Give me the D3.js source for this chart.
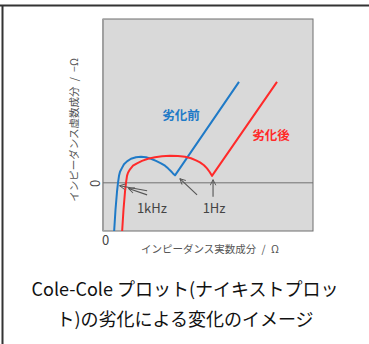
<!DOCTYPE html>
<html>
<head>
<meta charset="utf-8">
<script src="https://cdn.jsdelivr.net/npm/d3@7"></script>
<style>
  html, body { margin: 0; padding: 0; background: #fff; }
  svg { display: block; }
  text { font-family: "Noto Sans CJK JP", "Noto Sans", sans-serif; }
</style>
</head>
<body>
<svg id="chart" width="369" height="344"></svg>
<script>
// Nyquist (Cole-Cole) curves: real part (x) vs. negative imaginary part (y), arbitrary units
const beforeRe = [5.24, 5.95, 6.67, 7.14, 7.62, 8.10, 9.05, 10.0, 11.43, 13.33, 15.71, 18.10, 20.48, 22.86, 25.24, 27.62, 29.52, 30.95, 32.38, 33.33, 34.29, 64.76];
const beforeIm = [-21, -11.2, -3.7, 0, 2.9, 4.6, 6.2, 7.7, 8.9, 10.0, 10.6, 10.8, 10.6, 10.0, 9.1, 8.1, 7.1, 6.0, 4.8, 3.9, 3.1, 41.9];
const afterRe = [9.05, 9.76, 10.48, 10.95, 11.43, 11.90, 12.86, 14.29, 16.19, 18.57, 21.43, 24.76, 28.10, 31.90, 35.71, 39.05, 41.90, 44.29, 46.19, 48.10, 49.52, 50.71, 51.90, 82.86];
const afterIm = [-21, -11.2, -3.7, 0, 2.9, 4.2, 5.6, 7.1, 8.1, 9.1, 10.0, 10.6, 11.0, 11.2, 11.1, 10.8, 10.2, 9.3, 8.5, 7.3, 6.0, 4.6, 2.9, 41.9];

const seriesNames = ["劣化前", "劣化後"];
const seriesColors = ["#1f7ac7", "#ff2a2a"];
const seriesLabelAt = [[37.1, 28.2], [80.0, 19.9]];

const xTicks = [0];
const yTicks = [0];
const xTitle = "インピーダンス実数成分\u2002/\u2002Ω";
const yTitle = "インピーダンス虚数成分\u2002/\u2002−Ω";

// frequency markers: label, label position, arrows [from, to]
const freqLabels = ["1kHz", "1Hz"];
const freqLabelAt = [[23.3, -10.2], [52.9, -10.2]];
const freqArrows = [
  [[[21.0, -3.3], [7.9, -1.2]], [[21.0, -5.0], [12.2, -2.4]]],
  [[[44.8, -5.0], [36.6, 1.7]], [[52.4, -5.8], [52.4, 1.3]]]
];

const captionLines = ["Cole-Cole プロット(ナイキストプロッ", "ト)の劣化による変化のイメージ"];

const svg = d3.select("#chart");
const plot = { left: 103, right: 313, top: 19, bottom: 231 };

const x = d3.scaleLinear().domain([0, 100]).range([plot.left, plot.right]);
const y = d3.scaleLinear().domain([-20, 68]).range([plot.bottom, plot.top]);

// outer frame (top and left edges)
svg.append("line").attr("x1", 0).attr("x2", 369).attr("y1", 5.5).attr("y2", 5.5)
  .attr("stroke", "#333").attr("stroke-width", 2);
svg.append("line").attr("x1", 2.5).attr("x2", 2.5).attr("y1", 5).attr("y2", 344)
  .attr("stroke", "#333").attr("stroke-width", 2);

// plot background
svg.append("rect")
  .attr("x", plot.left).attr("y", plot.top)
  .attr("width", plot.right - plot.left).attr("height", plot.bottom - plot.top)
  .attr("fill", "#d9d9d9").attr("stroke", "#6e6e6e").attr("stroke-width", 1);
svg.append("line").attr("x1", plot.left).attr("x2", plot.left)
  .attr("y1", plot.top).attr("y2", plot.bottom)
  .attr("stroke", "#a0a0a0").attr("stroke-width", 2);

// zero line
svg.append("line")
  .attr("x1", plot.left).attr("x2", plot.right)
  .attr("y1", y(0)).attr("y2", y(0))
  .attr("stroke", "#707070").attr("stroke-width", 1);

const defs = svg.append("defs");
defs.append("clipPath").attr("id", "clip").append("rect")
  .attr("x", plot.left).attr("y", plot.top)
  .attr("width", plot.right - plot.left).attr("height", plot.bottom - plot.top);
defs.append("marker").attr("id", "head")
  .attr("viewBox", "0 0 10 10").attr("refX", 9).attr("refY", 5)
  .attr("markerWidth", 7).attr("markerHeight", 7).attr("markerUnits", "userSpaceOnUse")
  .attr("orient", "auto")
  .append("path").attr("d", "M1,1 L9,5 L1,9").attr("fill", "none")
  .attr("stroke", "#555").attr("stroke-width", 1.3);

// curves
const series = [
  beforeRe.map((v, i) => [v, beforeIm[i]]),
  afterRe.map((v, i) => [v, afterIm[i]])
];
const line = d3.line().x(d => x(d[0])).y(d => y(d[1])).curve(d3.curveLinear);
svg.append("g").attr("clip-path", "url(#clip)")
  .selectAll("path").data(series).join("path")
  .attr("d", line)
  .attr("fill", "none")
  .attr("stroke", (d, i) => seriesColors[i])
  .attr("stroke-width", 2)
  .attr("stroke-linejoin", "round");

// series labels
svg.selectAll("text.series").data(seriesNames).join("text")
  .attr("class", "series")
  .attr("x", (d, i) => x(seriesLabelAt[i][0]))
  .attr("y", (d, i) => y(seriesLabelAt[i][1]))
  .attr("text-anchor", "middle").attr("dominant-baseline", "central")
  .attr("font-size", 12.5).attr("font-weight", "bold")
  .attr("fill", (d, i) => seriesColors[i])
  .text(d => d);

// frequency arrows and labels
freqArrows.forEach(group => {
  group.forEach(([a, b]) => {
    svg.append("line")
      .attr("x1", x(a[0])).attr("y1", y(a[1]))
      .attr("x2", x(b[0])).attr("y2", y(b[1]))
      .attr("stroke", "#555").attr("stroke-width", 1.1)
      .attr("marker-end", "url(#head)");
  });
});
svg.selectAll("text.freq").data(freqLabels).join("text")
  .attr("class", "freq")
  .attr("x", (d, i) => x(freqLabelAt[i][0]))
  .attr("y", (d, i) => y(freqLabelAt[i][1]))
  .attr("text-anchor", "middle").attr("dominant-baseline", "central")
  .attr("font-size", 13).attr("fill", "#444")
  .text(d => d);

// axes: only the origin tick is labelled
const xAxis = svg.append("g")
  .attr("transform", `translate(0,${plot.bottom})`)
  .call(d3.axisBottom(x).tickValues(xTicks).tickSize(0).tickPadding(5));
xAxis.select(".domain").remove();
xAxis.selectAll("text").attr("font-size", 13).attr("fill", "#444")
  .attr("font-family", "'Noto Sans CJK JP', sans-serif").attr("dx", 2);

const yAxis = svg.append("g")
  .attr("transform", `translate(${plot.left},0)`)
  .call(d3.axisLeft(y).tickValues(yTicks).tickSize(0).tickPadding(0));
yAxis.select(".domain").remove();
yAxis.selectAll(".tick text")
  .attr("x", 0).attr("dy", null).attr("text-anchor", "middle")
  .attr("dominant-baseline", "central")
  .attr("transform", "translate(-9,0) rotate(-90)")
  .attr("font-size", 13).attr("fill", "#444")
  .attr("font-family", "'Noto Sans CJK JP', sans-serif");

// axis titles
svg.append("text")
  .attr("x", 210).attr("y", 248)
  .attr("text-anchor", "middle").attr("dominant-baseline", "central")
  .attr("font-size", 10.5).attr("fill", "#555")
  .text(xTitle);
svg.append("text")
  .attr("transform", "translate(73,130) rotate(-90)")
  .attr("text-anchor", "middle").attr("dominant-baseline", "central")
  .attr("font-size", 10.5).attr("fill", "#555")
  .text(yTitle);

// caption
svg.selectAll("text.caption").data(captionLines).join("text")
  .attr("class", "caption")
  .attr("x", 185)
  .attr("y", (d, i) => 288 + i * 30)
  .attr("text-anchor", "middle").attr("dominant-baseline", "central")
  .attr("font-size", 18).attr("fill", "#111")
  .text(d => d);
</script>
</body>
</html>
